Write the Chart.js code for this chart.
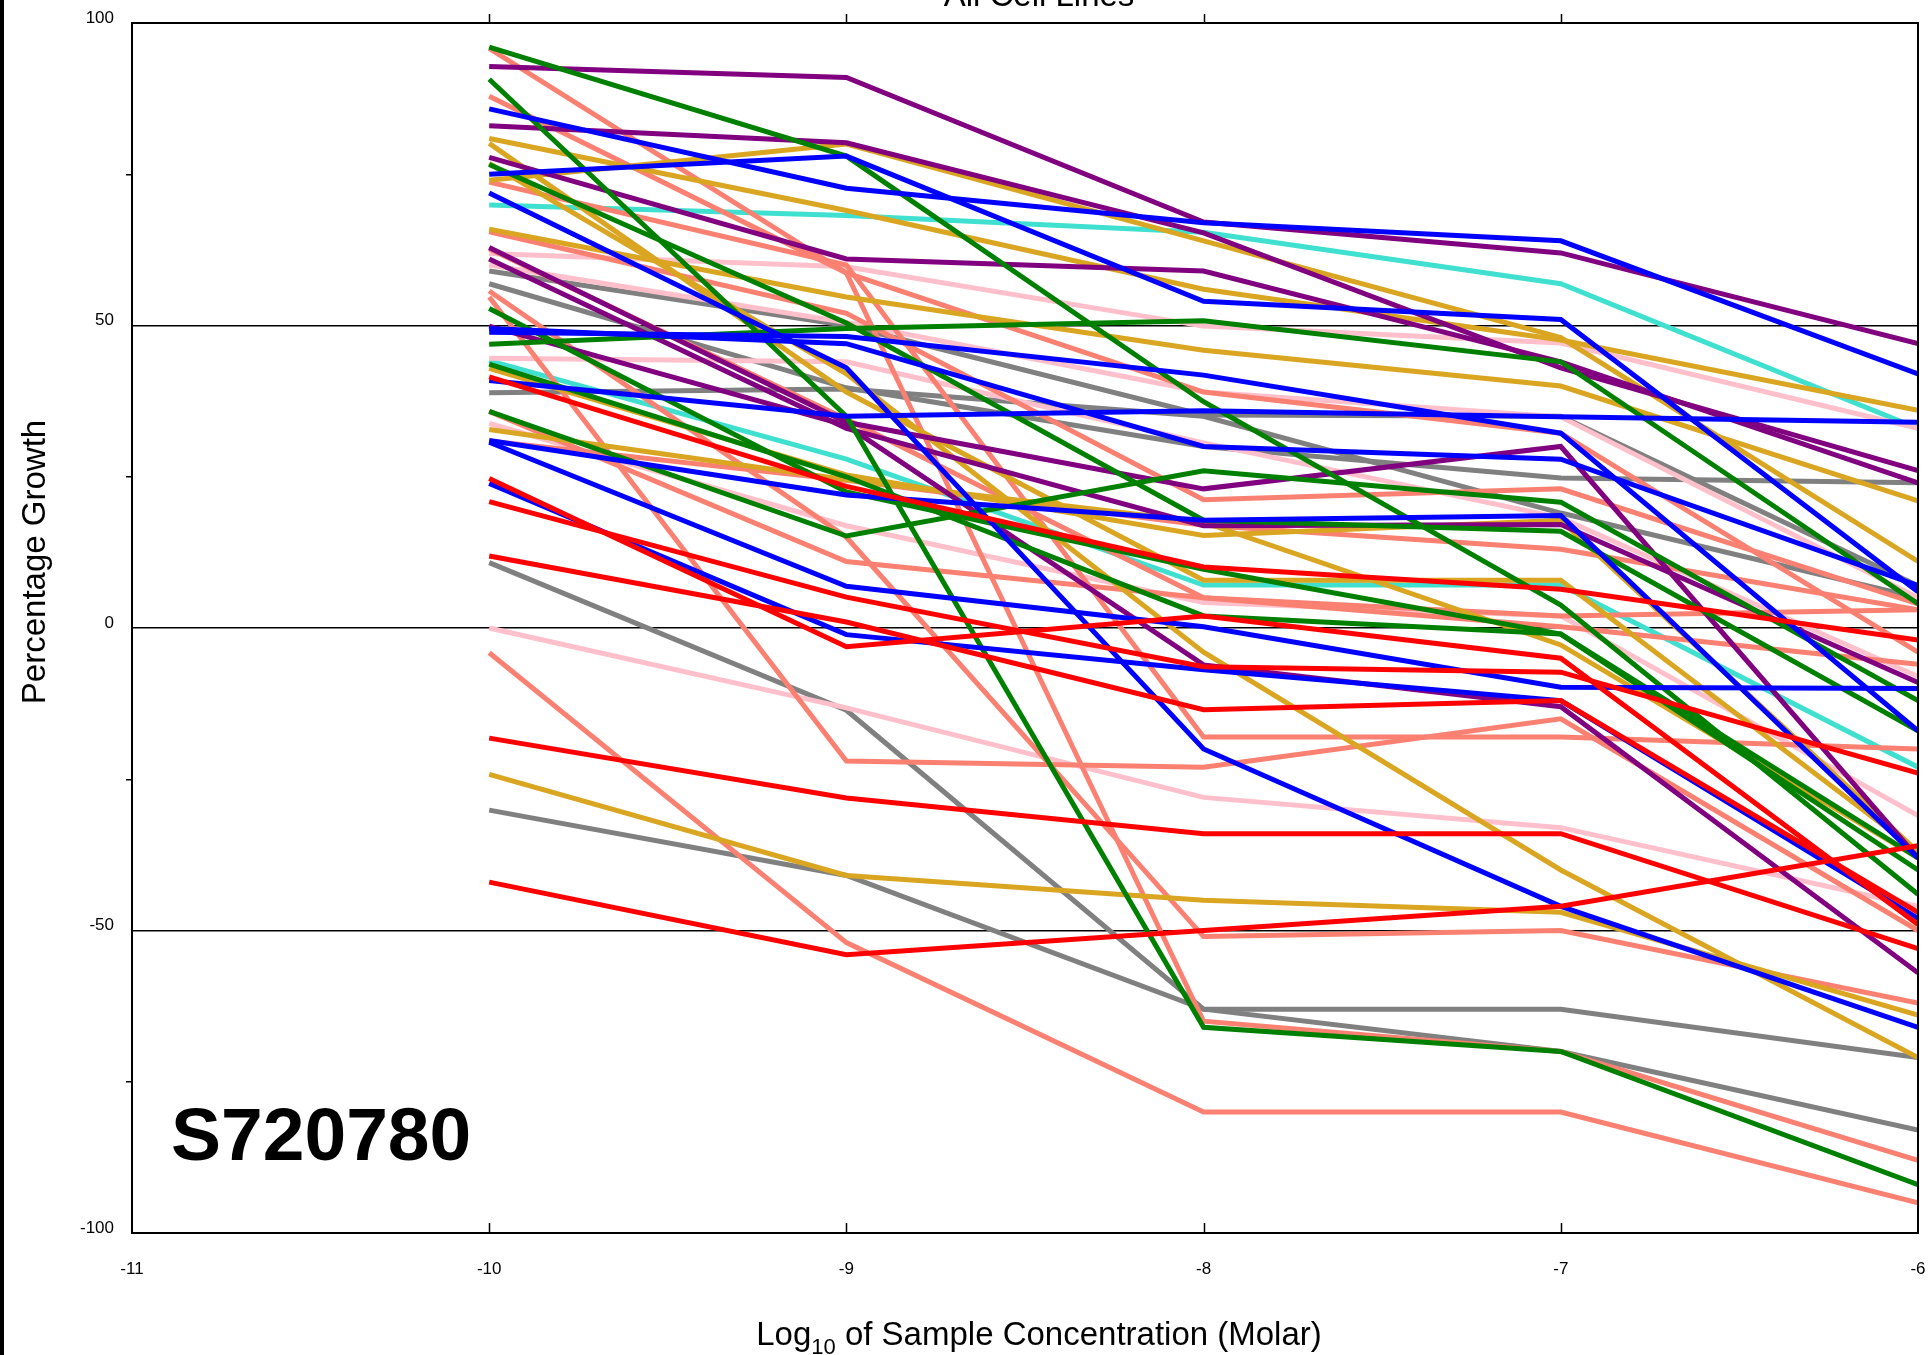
<!DOCTYPE html>
<html lang="en">
<head>
    <meta charset="UTF-8">
    <title>All Cell Lines</title>
    <script src="https://cdn.jsdelivr.net/npm/chart.js@4.4.0/dist/chart.umd.min.js"></script>
    <style>
        body { margin: 0; background: #fff; }
        canvas { display: block; }
    </style>
</head>
<body>
    <canvas id="chart" width="1930" height="1355"></canvas>

    <script>
       // log10 molar concentrations where each cell line was measured
       const concentrations = [-10, -9, -8, -7, -6];
       const xTicks = [-11, -10, -9, -8, -7, -6];

       // percentage growth, one row per cell line, grouped by line colour
       const redLines = [
           [24.7, -3.1, 2.0, -5, -49],
           [20.9, 5.1, -6.4, -7.3, -24],
           [11.9, 1.0, -13.5, -12, -47],
           [-18.2, -28.1, -34, -34, -53],
           [-42.0, -54.0, -50, -46, -36],
           [41.5, 23.4, 10.1, 6.4, -2]
       ];
       const blueLines = [
           [85.8, 72.7, 67, 64, 42],
           [75.0, 78, 54, 51, 6],
           [71.9, 43, -20, -46, -66],
           [48.9, 48.2, 41.8, 32.2, -17],
           [40.9, 35, 35.9, 34.9, 34],
           [30.7, 6.9, 0.2, -9.8, -10],
           [23.9, -1.1, -6.9, -12, -48],
           [49.5, 47, 30, 27.9, 7],
           [31, 22, 17.8, 18.6, -38]
       ];
       const greenLines = [
           [96.0, 78, 37.4, 3.8, -44],
           [90.7, 35, -66, -70, -92],
           [76.6, 50.4, 17.8, 16, -17],
           [52.8, 22.5, 9.7, -1.0, -38],
           [46.9, 49.5, 50.8, 44, 4],
           [43.6, 25, 2.0, -1.0, -40],
           [35.8, 15.2, 26, 20.8, -12]
       ];
       const purpleLines = [
           [92.8, 91.0, 67.1, 62, 47],
           [83.0, 80.2, 65.3, 43, 26],
           [77.8, 61, 59, 44, 24],
           [62.9, 34, 23, 30, -38],
           [61.0, 33, 16.9, 17.1, -9],
           [49.9, 33.5, -6.1, -13, -57]
       ];
       const goldLines = [
           [74.0, 80, 64, 48, 11],
           [80.9, 69, 56, 47.6, 36],
           [65.9, 54.7, 45.9, 40, 21],
           [80.1, 39, 7.9, 7.9, -37],
           [76.8, 42, -4, -40, -71],
           [42.9, 25.3, 15.3, 17.8, -37],
           [32.8, 24.5, 17.5, -2.8, -38],
           [-24.2, -40.9, -45, -47, -64]
       ];
       const salmonLines = [
           [95.8, 58.7, -65, -70, -88],
           [87.9, 58.7, 39, 32.2, -4],
           [73.7, 60, -18, -18, -20],
           [65.5, 52, 21.2, 23, 4],
           [62.7, 34.5, 5, 0.2, -6],
           [55.7, 15, -51, -50, -62],
           [54.7, -22, -23, -15, -50],
           [35.8, 11, 5, 2, 3],
           [30.9, 24.4, 17, 13, 3],
           [-4.1, -52, -80, -80, -95]
       ];
       const pinkLines = [
           [61.9, 59.7, 49.9, 47.1, 33],
           [60.0, 50.5, 39, 34.9, 5],
           [44.6, 44, 30.6, 18.2, -8],
           [33.8, 16.9, 4.2, 2.0, -31],
           [0.0, -13.2, -28, -33, -46]
       ];
       const grayLines = [
           [59.0, 50, 35.2, 35, 7],
           [56.9, 39.7, 30, 24.8, 24],
           [38.9, 39.5, 35, 19, 5],
           [10.8, -13.6, -63, -63, -71],
           [-30.1, -40.9, -63, -70, -83]
       ];
       const turquoiseLines = [
           [69.9, 68.2, 65.4, 56.9, 33],
           [44.2, 27.9, 7.1, 7.1, -23]
       ];

       const groups = [
           [redLines, '#FF0000'],
           [blueLines, '#0000FF'],
           [greenLines, '#008000'],
           [purpleLines, '#800080'],
           [goldLines, '#DAA520'],
           [salmonLines, '#FA8072'],
           [pinkLines, '#FFC0CB'],
           [grayLines, '#808080'],
           [turquoiseLines, '#40E0D0']
       ];

       const datasets = [];
       groups.forEach(([lines, colour]) => {
           lines.forEach(values => {
               datasets.push({
                   data: values.map((v, i) => ({ x: concentrations[i], y: v })),
                   borderColor: colour,
                   borderWidth: 5,
                   pointRadius: 0,
                   fill: false,
                   tension: 0
               });
           });
       });

       const FONT = "'Liberation Sans', Arial, sans-serif";
       Chart.defaults.font.family = FONT;
       Chart.defaults.color = '#000';

       // frame, x tick marks and the free texts
       const decorations = {
           id: 'decorations',
           afterDatasetsDraw(chart) {
               const ctx = chart.ctx;
               const a = chart.chartArea;
               const x = chart.scales.x;
               ctx.save();
               ctx.strokeStyle = '#000';
               ctx.lineWidth = 2;
               ctx.strokeRect(a.left, a.top, a.right - a.left, a.bottom - a.top);
               ctx.lineWidth = 1.5;
               ctx.beginPath();
               concentrations.slice(0, 4).forEach(c => {
                   const px = Math.round(x.getPixelForValue(c)) + 0.5;
                   ctx.moveTo(px, a.top - 9);
                   ctx.lineTo(px, a.top);
                   ctx.moveTo(px, a.bottom - 10);
                   ctx.lineTo(px, a.bottom);
               });
               ctx.stroke();

               ctx.fillStyle = '#000';
               ctx.fillRect(0, 0, 4, chart.height);

               ctx.textAlign = 'center';
               ctx.textBaseline = 'alphabetic';
               ctx.font = '33px ' + FONT;
               ctx.fillText('All Cell Lines', 1039, 6);

               ctx.textAlign = 'left';
               ctx.font = 'bold 75px ' + FONT;
               ctx.fillText('S720780', 171, 1160);

               // x axis title with subscript
               const big = '33px ' + FONT, small = '22px ' + FONT;
               const p1 = 'Log', p2 = '10', p3 = ' of Sample Concentration (Molar)';
               ctx.font = big;
               const w1 = ctx.measureText(p1).width, w3 = ctx.measureText(p3).width;
               ctx.font = small;
               const w2 = ctx.measureText(p2).width;
               let sx = 1039 - (w1 + w2 + w3) / 2;
               ctx.font = big;
               ctx.fillText(p1, sx, 1345);
               ctx.font = small;
               ctx.fillText(p2, sx + w1, 1354);
               ctx.font = big;
               ctx.fillText(p3, sx + w1 + w2, 1345);

               ctx.translate(36, 562);
               ctx.rotate(-Math.PI / 2);
               ctx.textAlign = 'center';
               ctx.textBaseline = 'middle';
               ctx.font = '33px ' + FONT;
               ctx.fillText('Percentage Growth', 0, 0);
               ctx.restore();
           }
       };

       new Chart(document.getElementById('chart').getContext('2d'), {
           type: 'line',
           data: { datasets },
           options: {
               responsive: false,
               devicePixelRatio: 1,
               animation: false,
               layout: { padding: { left: 0, right: 12, top: 23, bottom: 0 } },
               plugins: { legend: { display: false }, tooltip: { enabled: false } },
               scales: {
                   x: {
                       type: 'linear',
                       min: -11,
                       max: -6,
                       afterBuildTicks: s => { s.ticks = xTicks.map(v => ({ value: v })); },
                       afterFit: s => { s.height = 122; s.paddingRight = 0; s.paddingLeft = 0; },
                       grid: { display: false },
                       border: { display: false },
                       ticks: { font: { size: 17 }, padding: 18, maxRotation: 0 }
                   },
                   y: {
                       min: -100,
                       max: 100,
                       afterFit: s => { s.width = 132; s.paddingTop = 0; s.paddingBottom = 0; },
                       border: { display: false },
                       grid: {
                           color: c => (c.tick && c.tick.value % 50 === 0 && Math.abs(c.tick.value) < 100) ? '#000' : 'rgba(0,0,0,0)',
                           tickColor: c => (c.tick && c.tick.value % 50 !== 0) ? '#000' : 'rgba(0,0,0,0)',
                           lineWidth: 1.5,
                           tickLength: 6
                       },
                       ticks: {
                           stepSize: 25,
                           font: { size: 17 },
                           padding: 12,
                           labelOffset: -5,
                           callback: v => (v % 50 === 0 ? String(v) : '')
                       }
                   }
               }
           },
           plugins: [decorations]
       });
    </script>
</body>
</html>
